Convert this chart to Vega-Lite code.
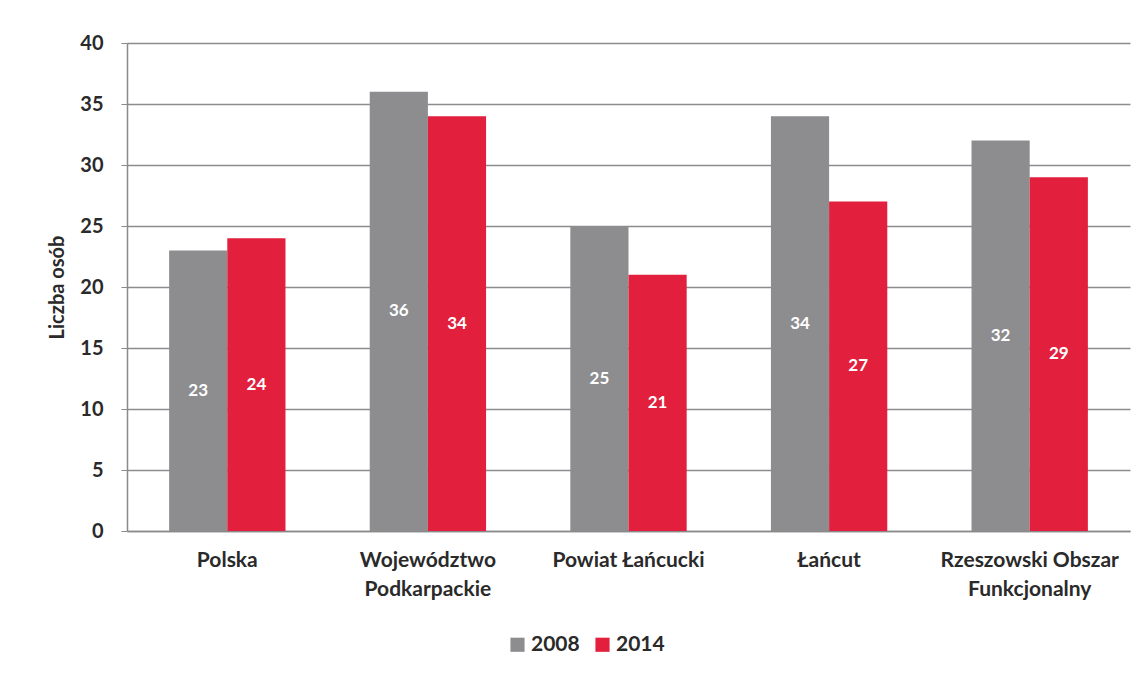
{
  "$schema": "https://vega.github.io/schema/vega-lite/v6.json",
  "width": 1003,
  "height": 488,
  "autosize": {"type": "none"},
  "padding": {"left": 127, "top": 43, "right": 17, "bottom": 143},
  "background": "white",
  "config": {
    "font": "Lato",
    "view": {"stroke": null}
  },
  "data": {
    "values": [
      {"region": "Polska", "year": "2008", "value": 23},
      {"region": "Polska", "year": "2014", "value": 24},
      {"region": "Województwo Podkarpackie", "year": "2008", "value": 36},
      {"region": "Województwo Podkarpackie", "year": "2014", "value": 34},
      {"region": "Powiat Łańcucki", "year": "2008", "value": 25},
      {"region": "Powiat Łańcucki", "year": "2014", "value": 21},
      {"region": "Łańcut", "year": "2008", "value": 34},
      {"region": "Łańcut", "year": "2014", "value": 27},
      {"region": "Rzeszowski Obszar Funkcjonalny", "year": "2008", "value": 32},
      {"region": "Rzeszowski Obszar Funkcjonalny", "year": "2014", "value": 29}
    ]
  },
  "transform": [{"calculate": "datum.value / 2", "as": "mid"}],
  "encoding": {
    "x": {
      "field": "region",
      "type": "nominal",
      "sort": null,
      "scale": {"paddingInner": 0.42, "paddingOuter": 0.21},
      "axis": {
        "title": null,
        "labelAngle": 0,
        "labelFont": "Lato",
        "labelFontWeight": "bold",
        "labelFontSize": 21,
        "labelColor": "#2a2a2a",
        "labelPadding": 18,
        "labelLineHeight": 29,
        "labelBaseline": "top",
        "ticks": false,
        "domainColor": "#8a8a8a",
        "domainWidth": 1.5,
        "labelExpr": "datum.value == 'Województwo Podkarpackie' ? ['Województwo', 'Podkarpackie'] : datum.value == 'Rzeszowski Obszar Funkcjonalny' ? ['Rzeszowski Obszar', 'Funkcjonalny'] : datum.value"
      }
    },
    "xOffset": {"field": "year", "type": "nominal"}
  },
  "layer": [
    {
      "mark": {"type": "bar"},
      "encoding": {
        "y": {
          "field": "value",
          "type": "quantitative",
          "scale": {"domain": [0, 40]},
          "axis": {
            "title": "Liczba osób",
            "titleFont": "Lato",
            "titleFontSize": 20,
            "titleFontWeight": "bold",
            "titleColor": "#2a2a2a",
            "titlePadding": 12,
            "values": [0, 5, 10, 15, 20, 25, 30, 35, 40],
            "labelFont": "Lato",
            "labelFontSize": 20,
            "labelFontWeight": "bold",
            "labelColor": "#2a2a2a",
            "labelPadding": 18,
            "tickSize": 6,
            "tickColor": "#8a8a8a",
            "domainColor": "#8a8a8a",
            "domainWidth": 1.5,
            "gridColor": "#8c8c8c",
            "gridWidth": 1.5
          }
        },
        "color": {
          "field": "year",
          "type": "nominal",
          "scale": {"domain": ["2008", "2014"], "range": ["#8d8d90", "#e21f3c"]},
          "legend": {
            "title": null,
            "orient": "none",
            "legendX": 380,
            "legendY": 591,
            "direction": "horizontal",
            "symbolType": "square",
            "symbolSize": 200,
            "symbolStrokeWidth": 0,
            "labelFont": "Lato",
            "labelFontSize": 21,
            "labelFontWeight": "bold",
            "labelColor": "#2a2a2a",
            "columnPadding": 12,
            "labelOffset": 3
          }
        }
      }
    },
    {
      "mark": {"type": "text", "color": "white", "font": "Lato", "fontWeight": "bold", "fontSize": 17, "baseline": "middle"},
      "encoding": {
        "y": {"field": "mid", "type": "quantitative"},
        "text": {"field": "value", "type": "quantitative"}
      }
    }
  ]
}
